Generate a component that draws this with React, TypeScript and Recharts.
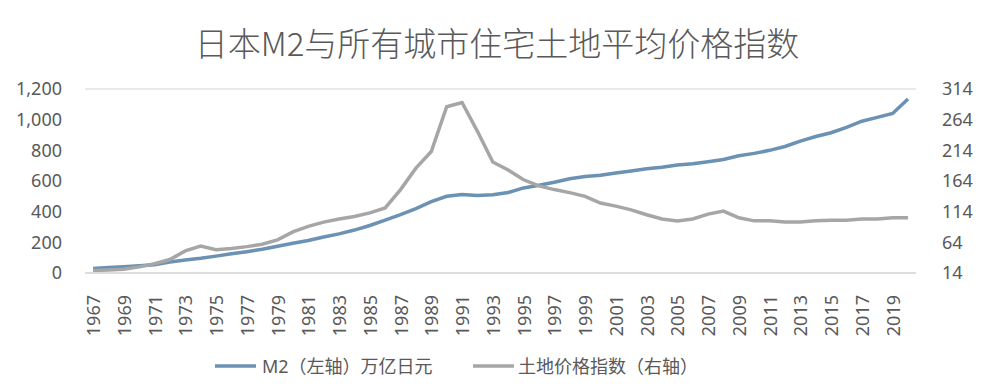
import { LineChart, Line, XAxis, YAxis, CartesianGrid, Legend } from 'recharts'

const years = [
  '1967', '1968', '1969', '1970', '1971', '1972', '1973', '1974', '1975', '1976',
  '1977', '1978', '1979', '1980', '1981', '1982', '1983', '1984', '1985', '1986',
  '1987', '1988', '1989', '1990', '1991', '1992', '1993', '1994', '1995', '1996',
  '1997', '1998', '1999', '2000', '2001', '2002', '2003', '2004', '2005', '2006',
  '2007', '2008', '2009', '2010', '2011', '2012', '2013', '2014', '2015', '2016',
  '2017', '2018', '2019', '2020',
]

// M2, trillion yen (left axis)
const m2 = [
  30, 36, 41, 47, 54, 72, 85, 96, 110, 125,
  139, 155, 175, 194, 212, 235, 255, 280, 310, 345,
  380, 420, 465, 500, 512, 505, 510, 525, 555, 572,
  592, 615, 630, 638, 652, 665, 680, 690, 705, 712,
  725, 740, 765, 780, 800, 825, 860, 890, 915, 950,
  990, 1015, 1040, 1135,
]

// land price index, residential, all cities (right axis)
const landIndex = [
  18, 19, 20, 24, 29, 36, 50, 58, 52, 54,
  57, 61, 68, 81, 90, 97, 102, 106, 112, 120,
  150, 185, 212, 285, 292, 245, 195, 182, 166, 156,
  150, 145, 139, 128, 123, 117, 109, 102, 99, 102,
  110, 115, 104, 99, 99, 97, 97, 99, 100, 100,
  102, 102, 104, 104,
]

const leftTicks = [0, 200, 400, 600, 800, 1000, 1200]
const rightTicks = [14, 64, 114, 164, 214, 264, 314]

const M2_NAME = 'M2（左轴）万亿日元'
const LAND_NAME = '土地价格指数（右轴）'

const BLUE = '#6b91b4'
const GRAY = '#a6a6a6'
const TEXT = '#595959'
const FONT = '"Noto Sans", "Noto Sans CJK SC", sans-serif'

const data = years.map((year, i) => ({ year, m2: m2[i], land: landIndex[i] }))

function YearTick({ x, y, payload }: any) {
  return (
    <text
      x={0}
      y={0}
      transform={`translate(${x},${y + 14}) rotate(-90)`}
      textAnchor="end"
      dominantBaseline="central"
      fill={TEXT}
      fontSize={18}
      fontFamily={FONT}
    >
      {payload.value}
    </text>
  )
}

function LegendBox() {
  const items = [
    { label: M2_NAME, color: BLUE, lineX: 215, textX: 262 },
    { label: LAND_NAME, color: GRAY, lineX: 473, textX: 518 },
  ]
  return (
    <svg width={989} height={30} style={{ display: 'block' }}>
      {items.map((it) => (
        <g key={it.label}>
          <line x1={it.lineX} x2={it.lineX + 41} y1={15} y2={15} stroke={it.color} strokeWidth={3.5} />
          <text
            x={it.textX}
            y={15}
            dominantBaseline="central"
            fill={TEXT}
            fontSize={18}
            fontFamily={FONT}
          >
            {it.label}
          </text>
        </g>
      ))}
    </svg>
  )
}

export default function App() {
  return (
    <div style={{ position: 'absolute', left: 0, top: 0, width: 989, height: 389, background: '#fff' }}>
      <div
        style={{
          position: 'absolute',
          top: 18,
          left: 0,
          width: 994,
          textAlign: 'center',
          fontSize: 33,
          lineHeight: '48px',
          color: TEXT,
          fontFamily: '"Noto Sans CJK SC", sans-serif',
          fontWeight: 300,
        }}
      >
        日本M2与所有城市住宅土地平均价格指数
      </div>
      <LineChart
        width={989}
        height={389}
        data={data}
        margin={{ top: 89, right: 0, bottom: 8, left: 0 }}
      >
        <CartesianGrid vertical={false} stroke="#e2e2e2" strokeWidth={1.5} />
        <XAxis
          dataKey="year"
          interval={1}
          tick={<YearTick />}
          tickLine={false}
          axisLine={{ stroke: '#d9d9d9', strokeWidth: 1.5 }}
          height={78}
          padding={{ left: 8, right: 8 }}
        />
        <YAxis
          yAxisId="left"
          orientation="left"
          width={85}
          domain={[0, 1200]}
          ticks={leftTicks}
          tickFormatter={(v: number) => v.toLocaleString('en-US')}
          tick={{ fill: TEXT, fontSize: 18, fontFamily: FONT }}
          tickLine={false}
          axisLine={false}
          tickMargin={17}
          interval={0}
        />
        <YAxis
          yAxisId="right"
          orientation="right"
          width={73}
          domain={[14, 314]}
          ticks={rightTicks}
          tick={{ fill: TEXT, fontSize: 18, fontFamily: FONT, textAnchor: 'start' }}
          tickLine={false}
          axisLine={false}
          tickMargin={20}
          interval={0}
        />
        <Legend verticalAlign="bottom" height={30} content={<LegendBox />} />
        <Line
          yAxisId="left"
          type="linear"
          dataKey="m2"
          name={M2_NAME}
          stroke={BLUE}
          strokeWidth={3.5}
          dot={false}
          isAnimationActive={false}
        />
        <Line
          yAxisId="right"
          type="linear"
          dataKey="land"
          name={LAND_NAME}
          stroke={GRAY}
          strokeWidth={3.5}
          dot={false}
          isAnimationActive={false}
        />
      </LineChart>
    </div>
  )
}
